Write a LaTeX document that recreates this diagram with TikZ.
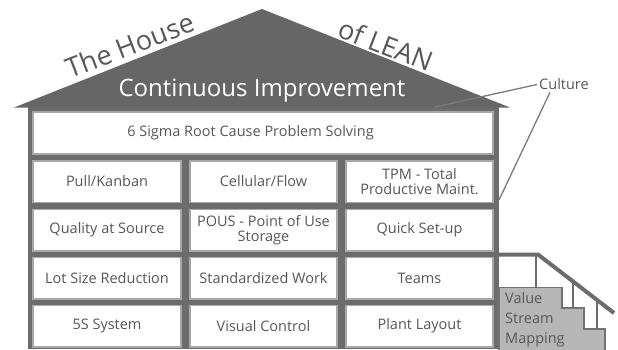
\documentclass[tikz,border=0pt]{standalone}
\usepackage{fontspec}
\setmainfont{Open Sans}
\definecolor{framec}{HTML}{6C6C6C}
\definecolor{roofc}{HTML}{666666}
\definecolor{boxline}{HTML}{A8A8A8}
\definecolor{txt}{HTML}{575757}
\definecolor{stepfill}{HTML}{B6B6B6}
\definecolor{stepline}{HTML}{737373}
\definecolor{culline}{HTML}{7A7A7A}
\begin{document}
\begin{tikzpicture}[x=1pt,y=-1pt,
  box/.style={draw=boxline, line width=1.5pt, fill=white, text=txt,
    font=\fontsize{14.5}{15}\selectfont, align=center, inner sep=0pt},
  colA/.style={minimum width=148pt},
  colB/.style={minimum width=147pt},
  rowh/.style={minimum height=41.5pt},
  title/.style={text=txt, font=\fontsize{27}{30}\selectfont, inner sep=0pt},
  rail/.style={draw=framec, line width=4pt},
  baluster/.style={draw=framec, line width=2.5pt},
  pointer/.style={draw=culline, line width=1.3pt}]
\useasboundingbox (0,0) rectangle (618,349);
% house frame and roof
\fill[framec] (28,106) rectangle (499,349);
\fill[roofc] (14,107.5) -- (262,9) -- (510,107.5) -- cycle;
\node[text=white, font=\fontsize{24}{27}\selectfont, inner sep=0pt, anchor=base] (ci) at (262,96.5) {Continuous Improvement};
\node[title, rotate=21] (th) at (130,45) {The House};
\node[title, rotate=-21] (ol) at (386,45) {of LEAN};
% boxes
\node[box, minimum width=460pt, minimum height=42pt] (six) at (263,133) {6 Sigma Root Cause Problem Solving\hspace*{25pt}};
\node[box, colA, rowh] (b11) at (107,181.5) {Pull/Kanban};
\node[box, colB, rowh] (b12) at (263.5,181.5) {Cellular/Flow};
\node[box, colB, rowh] (b13) at (419.5,181.5) {TPM - Total\\Productive Maint.};
\node[box, colA, rowh] (b21) at (107,230) {Quality at Source};
\node[box, colB, rowh] (b22) at (263.5,230) {POUS - Point of Use\\Storage};
\node[box, colB, rowh] (b23) at (419.5,230) {Quick Set-up};
\node[box, colA, rowh] (b31) at (107,278) {Lot Size Reduction};
\node[box, colB, rowh] (b32) at (263.5,278) {Standardized Work};
\node[box, colB, rowh] (b33) at (419.5,278) {Teams};
\node[box, colA, rowh] (b41) at (107,326) {5S System};
\node[box, colB, rowh] (b42) at (263.5,326) {Visual Control};
\node[box, colB, rowh] (b43) at (419.5,326) {Plant Layout};
% stairs
\filldraw[fill=stepfill, draw=stepline, line width=1.5pt]
  (499,287.5) -- (562,287.5) -- (562,308) -- (584,308) -- (584,329) -- (605,329) -- (605,351) -- (499,351) -- cycle;
\draw[baluster] (536,255) -- (536,287.5);
\draw[baluster] (573,280) -- (573,308);
\draw[baluster] (597,299) -- (597,329);
\draw[rail, line join=miter] (497,254.5) -- (538,254.5) -- (614,313);
\node[text=txt, font=\fontsize{14.5}{20}\selectfont, align=left, inner sep=0pt, anchor=north west] (vsm) at (505,292) {Value\\Stream\\Mapping};
% culture
\node[text=txt, font=\fontsize{14.5}{16}\selectfont, inner sep=2pt, anchor=west] (cul) at (537,84.5) {Culture};
\coordinate (cu1) at (435,107);
\coordinate (cu2) at (499,200);
\draw[pointer] (cul.west) -- (cu1);
\draw[pointer] ([xshift=13pt]cul.south west) -- (cu2);
\end{tikzpicture}
\end{document}
